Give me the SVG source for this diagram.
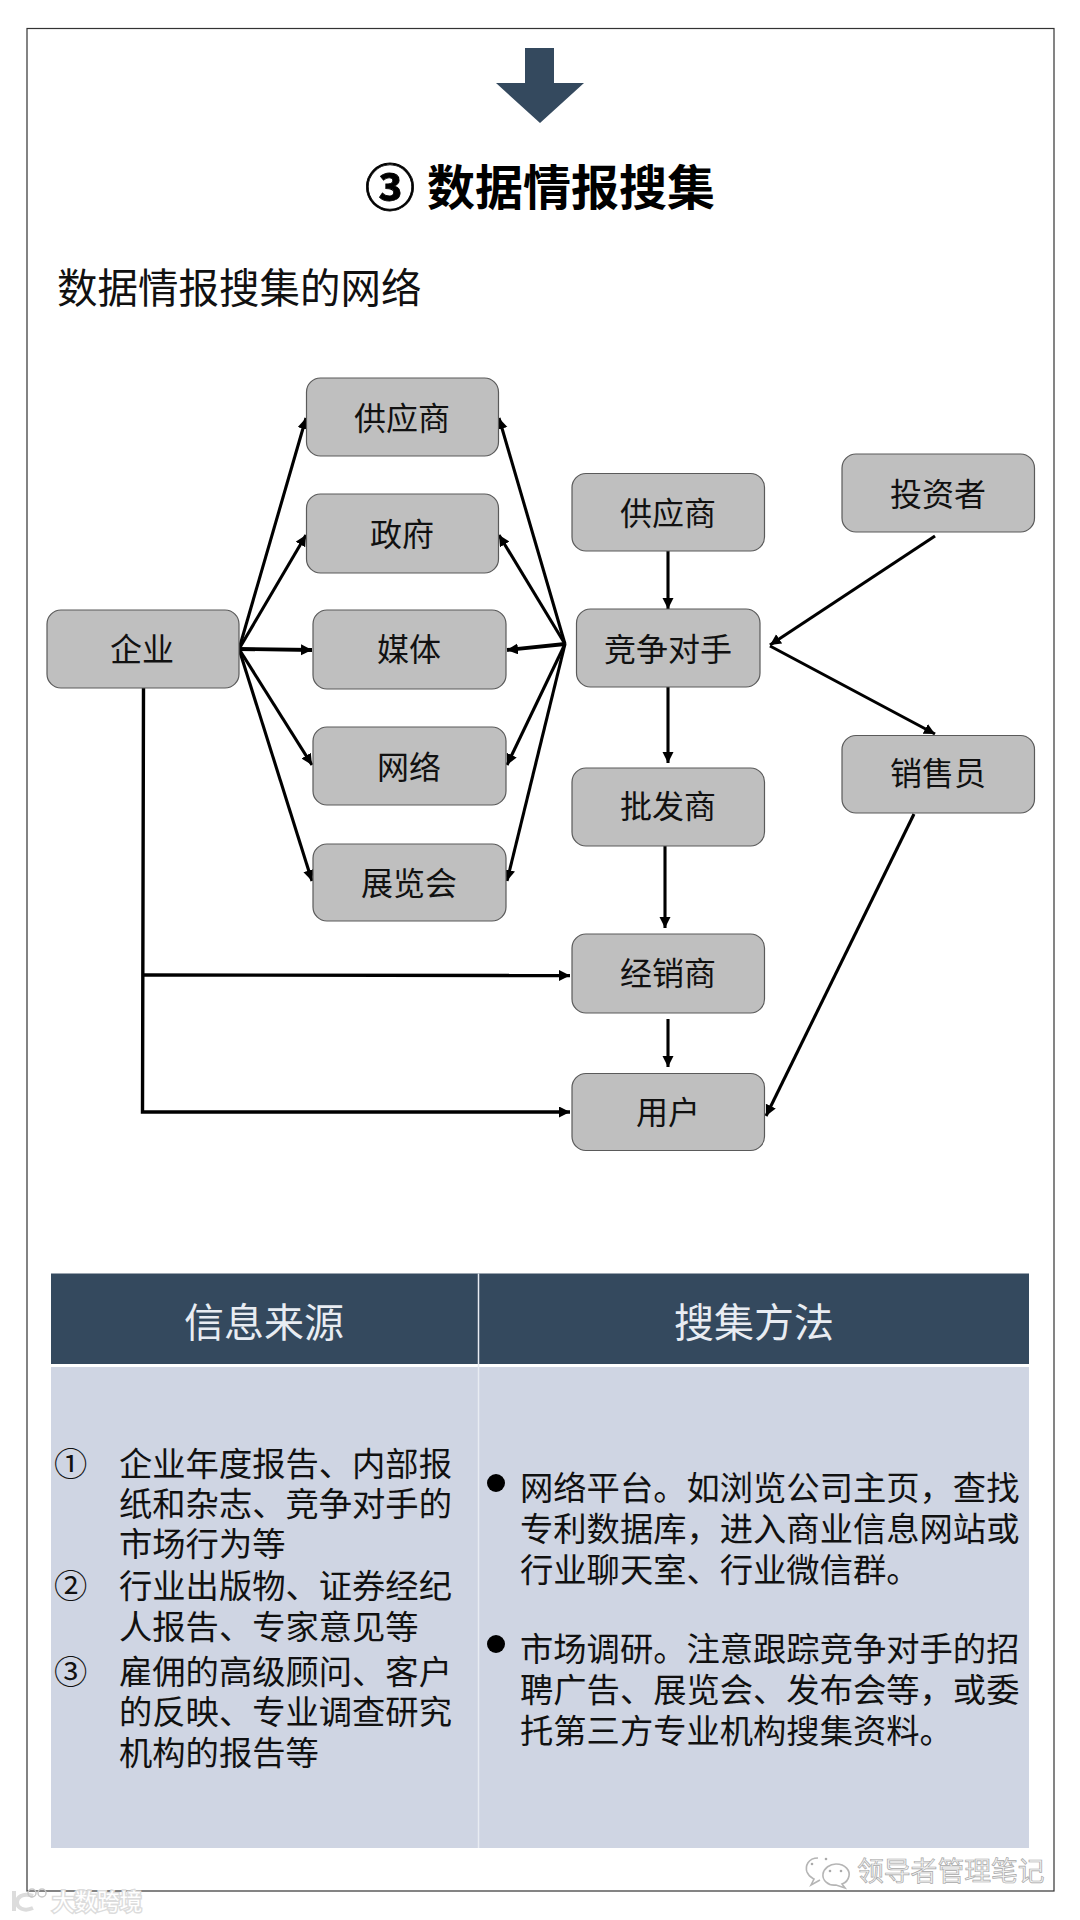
<svg xmlns="http://www.w3.org/2000/svg" width="1080" height="1920" viewBox="0 0 1080 1920">
<style>
text{font-family:"Noto Sans CJK SC","Liberation Sans",sans-serif}
.n rect{fill:#bfbfbf;stroke:#5a5a5a;stroke-width:1.2}
.n text{font-size:32px;fill:#111;text-anchor:middle}
.c line,.c path{stroke:#000;fill:none;stroke-width:3.1;marker-end:url(#a)}
.b{font-size:33.3px;fill:#111}
.h{font-size:40px;fill:#e8ecf2;text-anchor:middle}
.w{fill:none;stroke:#b5b5b5;stroke-width:1.6}
</style>
<defs>
<marker id="a" markerUnits="userSpaceOnUse" markerWidth="13" markerHeight="13" refX="11" refY="5.500" orient="auto"><path d="M0 0L11 5.500L0 11Z" fill="#000"/></marker>
</defs>
<rect width="1080" height="1920" fill="#fff"/>
<rect id="frame" x="27" y="28.5" width="1027" height="1862.5" fill="none" stroke="#333" stroke-width="1.2"/>
<polygon id="down-arrow" points="525,48 554,48 554,83 584,83 540,123 496,83 525,83" fill="#34495e"/>
<g id="title">
<text x="365" y="206" font-size="50" font-weight="700" fill="#000" stroke="#000" stroke-width="0.800">③</text>
<text x="427" y="205" font-size="48" font-weight="700" fill="#000">数据情报搜集</text>
</g>
<text id="subtitle" x="57" y="303" font-size="40.5" fill="#111">数据情报搜集的网络</text>
<g class="c" id="connectors">
<line x1="239" y1="649" x2="306" y2="418"/>
<line x1="239" y1="649" x2="306" y2="535"/>
<line x1="239" y1="649" x2="312" y2="650" style="stroke-width:3.8"/>
<line x1="239" y1="649" x2="312" y2="765"/>
<line x1="239" y1="649" x2="312" y2="881"/>
<line x1="565" y1="644" x2="499" y2="418"/>
<line x1="565" y1="644" x2="499" y2="535"/>
<line x1="565" y1="644" x2="507" y2="650" style="stroke-width:3.8"/>
<line x1="565" y1="644" x2="507" y2="765"/>
<line x1="565" y1="644" x2="507" y2="881"/>
<line x1="668" y1="551" x2="668" y2="609"/>
<line x1="935" y1="536" x2="770" y2="645"/>
<line x1="770" y1="646" x2="935" y2="734"/>
<line x1="668" y1="686" x2="668" y2="763"/>
<line x1="665" y1="840" x2="665" y2="928"/>
<line x1="668" y1="1019" x2="668" y2="1067"/>
<path d="M143.5 688L142.500 1112L570 1112" style="stroke-width:3.4"/>
<line x1="143" y1="975" x2="570" y2="975.500" style="stroke-width:3.4"/>
<line x1="914" y1="814" x2="766" y2="1116"/>
</g>
<g class="n" id="n1"><rect x="306.500" y="378" width="192" height="78" rx="14"/><text x="402" y="430">供应商</text></g>
<g class="n" id="n2"><rect x="306.500" y="494" width="192" height="79" rx="14"/><text x="402" y="546">政府</text></g>
<g class="n" id="n3"><rect x="47" y="610" width="192" height="78" rx="14"/><text x="142" y="661">企业</text></g>
<g class="n" id="n4"><rect x="313" y="610" width="193" height="79" rx="14"/><text x="409" y="661">媒体</text></g>
<g class="n" id="n5"><rect x="313" y="727" width="193" height="78" rx="14"/><text x="409" y="779">网络</text></g>
<g class="n" id="n6"><rect x="313" y="844" width="193" height="77" rx="14"/><text x="409" y="895">展览会</text></g>
<g class="n" id="n7"><rect x="572" y="473.500" width="192.500" height="77.500" rx="14"/><text x="668" y="525">供应商</text></g>
<g class="n" id="n8"><rect x="842" y="454" width="192.500" height="78" rx="14"/><text x="938" y="506">投资者</text></g>
<g class="n" id="n9"><rect x="576.500" y="609" width="183.500" height="78" rx="14"/><text x="668" y="661">竞争对手</text></g>
<g class="n" id="n10"><rect x="572" y="768" width="192.500" height="78" rx="14"/><text x="668" y="818">批发商</text></g>
<g class="n" id="n11"><rect x="842" y="735.500" width="192.500" height="77.500" rx="14"/><text x="938" y="785">销售员</text></g>
<g class="n" id="n12"><rect x="572" y="934" width="192.500" height="79" rx="14"/><text x="668" y="985">经销商</text></g>
<g class="n" id="n13"><rect x="572" y="1073.500" width="192.500" height="77" rx="14"/><text x="668" y="1124">用户</text></g>
<g id="table">
<rect x="51" y="1273.500" width="978" height="90.500" fill="#34495e"/>
<rect x="51" y="1367" width="978" height="481" fill="#cfd5e3"/>
<line x1="478.500" y1="1273.500" x2="478.500" y2="1848" stroke="#e8ecf2" stroke-width="1.500"/>
<text class="h" x="264" y="1337">信息来源</text>
<text class="h" x="754" y="1337">搜集方法</text>
<text class="b" x="54" y="1476">①</text>
<text class="b" x="119" y="1476">企业年度报告、内部报</text>
<text class="b" x="119" y="1516">纸和杂志、竞争对手的</text>
<text class="b" x="119" y="1556">市场行为等</text>
<text class="b" x="54" y="1598">②</text>
<text class="b" x="119" y="1598">行业出版物、证券经纪</text>
<text class="b" x="119" y="1639">人报告、专家意见等</text>
<text class="b" x="54" y="1684">③</text>
<text class="b" x="119" y="1684">雇佣的高级顾问、客户</text>
<text class="b" x="119" y="1724">的反映、专业调查研究</text>
<text class="b" x="119" y="1765">机构的报告等</text>
<circle cx="496" cy="1483" r="9" fill="#000"/>
<text class="b" x="520" y="1500">网络平台。如浏览公司主页，查找</text>
<text class="b" x="520" y="1541">专利数据库，进入商业信息网站或</text>
<text class="b" x="520" y="1582">行业聊天室、行业微信群。</text>
<circle cx="496" cy="1644" r="9" fill="#000"/>
<text class="b" x="520" y="1661">市场调研。注意跟踪竞争对手的招</text>
<text class="b" x="520" y="1702">聘广告、展览会、发布会等，或委</text>
<text class="b" x="520" y="1743">托第三方专业机构搜集资料。</text>
</g>
<g id="watermark-right">
<path class="w" d="M818 1858C808 1858 805 1866 807 1872C809 1877 812 1878 814 1879L811 1885L820 1880"/>
<path class="w" d="M836 1864C846 1864 850 1871 849 1876C848 1881 845 1883 842 1884L845 1888L836 1885C828 1886 822 1880 823 1874C824 1868 830 1864 836 1864Z"/>
<circle cx="812" cy="1864" r="1.300" fill="#aaa"/><circle cx="826" cy="1859" r="1.300" fill="#aaa"/>
<circle cx="830" cy="1871" r="1.300" fill="#aaa"/><circle cx="841" cy="1871" r="1.300" fill="#aaa"/>
<text x="857" y="1881" font-size="26.800" fill="#f2f2f2" stroke="#a8a8a8" stroke-width="0.700">领导者管理笔记</text>
</g>
<g id="watermark-left">
<path d="M14 1891V1911M33 1896C22 1892 17 1898 17 1902C17 1908 24 1912 33 1908" fill="none" stroke="#dcdcdc" stroke-width="4"/>
<circle cx="32" cy="1893" r="4" fill="none" stroke="#c8c8c8" stroke-width="1.500"/>
<circle cx="42" cy="1893" r="4" fill="none" stroke="#c8c8c8" stroke-width="1.500"/>
<text x="52" y="1910" font-size="22.500" fill="#fff" stroke="#dcdcdc" stroke-width="3" paint-order="stroke">大数跨境</text>
</g>
</svg>
